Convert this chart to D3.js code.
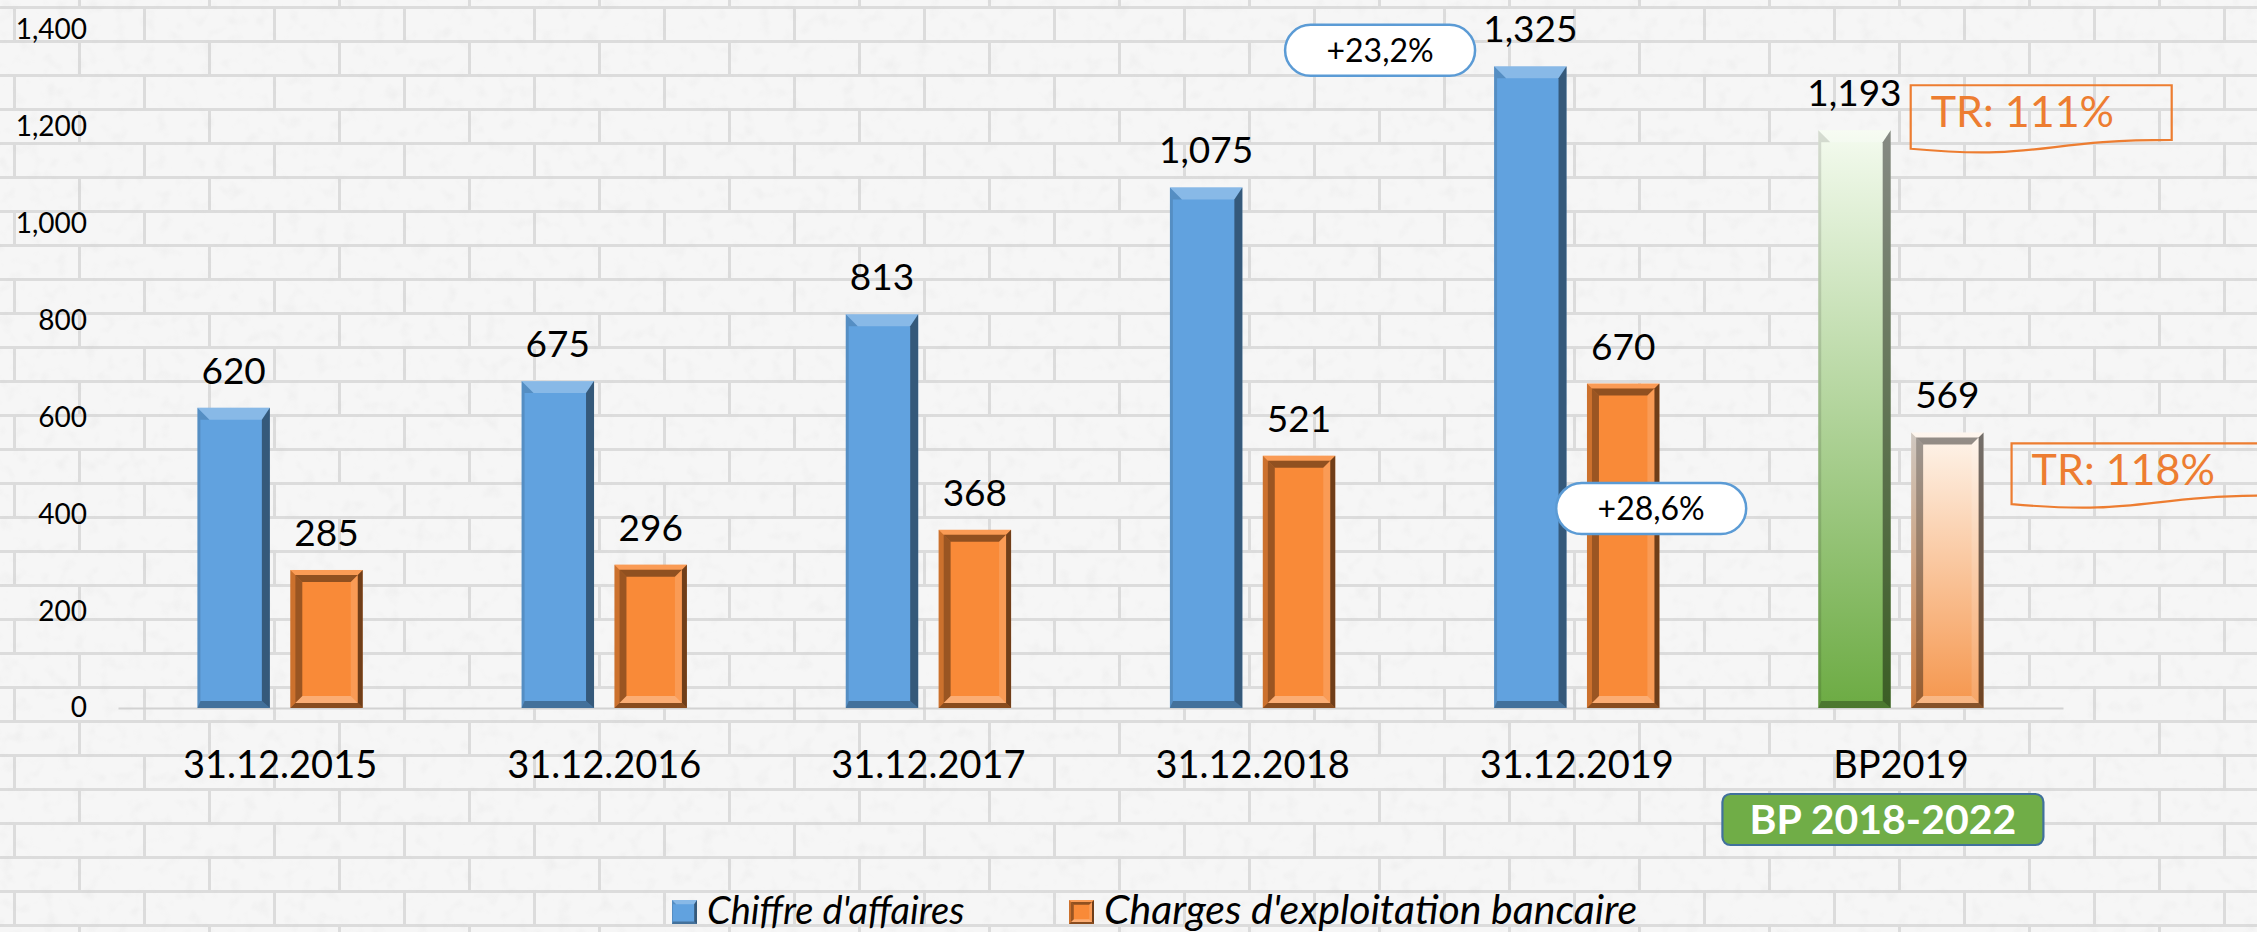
<!DOCTYPE html>
<meta charset="utf-8">
<style>
body { margin: 0; background: #fff; }
text { font-family: Lato, "Open Sans", sans-serif; }
</style>
<body>
<svg width="2257" height="932"></svg>
<script src="https://d3js.org/d3.v7.min.js"></script>
<script>

// data
var categories = ["31.12.2015", "31.12.2016", "31.12.2017", "31.12.2018", "31.12.2019", "BP2019"];
var seriesNames = ["Chiffre d'affaires", "Charges d'exploitation bancaire"];
var chiffre = [620, 675, 813, 1075, 1325, 1193];
var charges = [285, 296, 368, 521, 670, 569];
var yTicks = [0, 200, 400, 600, 800, 1000, 1200, 1400];
var growthLabels = ["+23,2%", "+28,6%"];
var trLabels = ["TR: 111%", "TR: 118%"];
var bpLabel = "BP 2018-2022";

var svg = d3.select("svg"),
    W = +svg.attr("width"), H = +svg.attr("height");

var defs = svg.append("defs");

// brick wall background
var pat = defs.append("pattern")
    .attr("id", "bricks")
    .attr("patternUnits", "userSpaceOnUse")
    .attr("width", 260).attr("height", 68)
    .attr("x", 13).attr("y", 6);
pat.append("rect").attr("width", 260).attr("height", 68).attr("fill", "#f6f6f6");
pat.append("path")
    .attr("d", "M0,1.5H260 M0,35.5H260 M1.5,0V34 M131.5,0V34 M66.5,34V68 M196.5,34V68")
    .attr("stroke", "#dcdcdc").attr("stroke-width", 3);

var grain = defs.append("filter").attr("id", "grain");
grain.append("feTurbulence").attr("type", "fractalNoise").attr("baseFrequency", 0.07).attr("numOctaves", 2).attr("seed", 4);
grain.append("feColorMatrix").attr("values", "0 0 0 0 0.6  0 0 0 0 0.6  0 0 0 0 0.6  0 0 0 -2.5 1.2");

svg.append("rect").attr("width", W).attr("height", H).attr("fill", "url(#bricks)");
svg.append("rect").attr("width", W).attr("height", H).attr("filter", "url(#grain)").attr("opacity", 0.14);

// gradients for the BP column
function vgrad(id, c0, c1) {
  var gr = defs.append("linearGradient").attr("id", id)
      .attr("x1", 0).attr("y1", 0).attr("x2", 0).attr("y2", 1);
  gr.append("stop").attr("offset", "0%").attr("stop-color", c0);
  gr.append("stop").attr("offset", "100%").attr("stop-color", c1);
}
vgrad("gGreen", "#f4fbef", "#6cab43");
vgrad("gPeach", "#fef5ec", "#f5954b");

var blue = "#61a2df", orange = "#f98a38";

// scales
var x0 = d3.scaleBand().domain(categories).range([118, 2063]).paddingInner(0.49).paddingOuter(0.245);
var x1 = d3.scaleBand().domain(seriesNames).range([0, x0.bandwidth()]).paddingInner(0.22);
var y = d3.scaleLinear().domain([0, 1400]).range([708, 30]);

// axes
var yAxis = svg.append("g")
    .attr("transform", "translate(87,0)")
    .call(d3.axisLeft(y).tickValues(yTicks).tickSize(0).tickPadding(0).tickFormat(d3.format(",")));
yAxis.select(".domain").remove();
yAxis.selectAll("text").attr("font-size", 28).attr("font-family", "Lato").attr("fill", "#000");

var xAxis = svg.append("g")
    .attr("transform", "translate(0," + y(0) + ")")
    .call(d3.axisBottom(x0).tickSize(0).tickSizeOuter(0).tickPadding(43));
xAxis.select(".domain").attr("stroke", "#d2d2d2").attr("stroke-width", 2);
xAxis.selectAll("text").attr("font-size", 38).attr("font-family", "Lato").attr("fill", "#000");

// bevel helpers
function poly(g, pts, color, op) {
  g.append("polygon").attr("points", pts.map(function(p) { return p.join(","); }).join(" "))
    .attr("fill", color).attr("fill-opacity", op);
}
function ring(g, x, y, w, h, d, st) {
  poly(g, [[x, y], [x + w, y], [x + w - d, y + d], [x + d, y + d]], st[0][0], st[0][1]);
  poly(g, [[x + w, y], [x + w, y + h], [x + w - d, y + h - d], [x + w - d, y + d]], st[1][0], st[1][1]);
  poly(g, [[x, y + h], [x + w, y + h], [x + w - d, y + h - d], [x + d, y + h - d]], st[2][0], st[2][1]);
  poly(g, [[x, y], [x + d, y + d], [x + d, y + h - d], [x, y + h]], st[3][0], st[3][1]);
}
function angleBar(g, x, y, w, h, fill, k) {
  var t = 12 * k, s = 8 * k, b = 7 * k, l = 3 * k;
  g.append("rect").attr("x", x).attr("y", y).attr("width", w).attr("height", h).attr("fill", fill);
  poly(g, [[x, y], [x + w, y], [x + w - s, y + t], [x + t, y + t]], "#fff", 0.25);
  poly(g, [[x + w, y], [x + w, y + h], [x + w - s, y + h - b], [x + w - s, y + t]], "#000", 0.45);
  poly(g, [[x, y + h], [x + w, y + h], [x + w - s, y + h - b], [x + l, y + h - b]], "#000", 0.3);
  poly(g, [[x, y], [x + t, y + t], [x + l, y + t], [x + l, y + h - b], [x, y + h]], "#000", 0.12);
}
function frameBar(g, x, y, w, h, fill, k) {
  var d1 = 5 * k, d2 = 7 * k;
  g.append("rect").attr("x", x).attr("y", y).attr("width", w).attr("height", h).attr("fill", fill);
  ring(g, x, y, w, h, d1, [["#fff", 0.15], ["#000", 0.55], ["#000", 0.45], ["#000", 0.18]]);
  ring(g, x + d1, y + d1, w - 2 * d1, h - 2 * d1, d2, [["#000", 0.42], ["#fff", 0.15], ["#fff", 0.3], ["#000", 0.38]]);
}

// bars
var bars = svg.append("g");
categories.forEach(function(c, i) {
  var bp = (c === "BP2019");
  [chiffre[i], charges[i]].forEach(function(v, j) {
    var s = seriesNames[j],
        bx = x0(c) + x1(s), by = y(v), bw = x1.bandwidth(), bh = y(0) - y(v);
    if (j === 0) angleBar(bars, bx, by, bw, bh, bp ? "url(#gGreen)" : blue, 1);
    else frameBar(bars, bx, by, bw, bh, bp ? "url(#gPeach)" : orange, 1);
    bars.append("text")
        .attr("x", bx + bw / 2).attr("y", by - 24)
        .attr("text-anchor", "middle").attr("font-size", 37).attr("fill", "#000")
        .text(d3.format(",")(v));
  });
});

// growth callouts (2019 vs 2018)
var ann = svg.append("g");
function pill(cx, cy, txt) {
  ann.append("rect").attr("x", cx - 95).attr("y", cy - 25.5).attr("width", 190).attr("height", 51)
      .attr("rx", 25.5).attr("fill", "#fff").attr("stroke", "#5b9bd5").attr("stroke-width", 2.5);
  ann.append("text").attr("x", cx).attr("y", cy).attr("dy", "0.36em")
      .attr("text-anchor", "middle").attr("font-size", 32).attr("fill", "#000").text(txt);
}
var c19 = categories[4];
pill(x0(c19) + x1(seriesNames[0]) - 114, y(chiffre[4]) - 16, growthLabels[0]);
pill(x0(c19) + x1(seriesNames[1]) + x1.bandwidth() / 2 + 28, y(charges[4]) + 125, growthLabels[1]);

// completion-rate boxes for the business plan
function docBox(x, yt, w, h, txt) {
  var p = "M" + x + "," + yt + "H" + (x + w) + "V" + (yt + 0.802 * h) +
          "C" + (x + w / 2) + "," + (yt + 0.802 * h) + " " + (x + w / 2) + "," + (yt + 1.1075 * h) +
          " " + x + "," + (yt + 0.934 * h) + "Z";
  ann.append("path").attr("d", p).attr("fill", "none").attr("stroke", "#ed7d31").attr("stroke-width", 2.2);
  ann.append("text").attr("x", x + 20).attr("y", yt + 42)
      .attr("font-size", 43).attr("fill", "#ed7d31").text(txt);
}
var cbp = categories[5];
docBox(x0(cbp) + x1(seriesNames[0]) + x1.bandwidth() + 20, y(chiffre[5]) - 45, 261, 68, trLabels[0]);
docBox(x0(cbp) + x1(seriesNames[1]) + x1.bandwidth() + 28, y(charges[5]) + 11, 261, 65, trLabels[1]);

// BP label under the last category
var bpx = x0(cbp) + x0.bandwidth() / 2 - 18;
ann.append("rect").attr("x", bpx - 160.5).attr("y", 794).attr("width", 321).attr("height", 51)
    .attr("rx", 8).attr("fill", "#70ad47").attr("stroke", "#41719c").attr("stroke-width", 2.2);
ann.append("text").attr("x", bpx).attr("y", 819.5).attr("dy", "0.36em")
    .attr("text-anchor", "middle").attr("font-size", 41).attr("font-weight", "bold")
    .attr("fill", "#fff").text(bpLabel);

// legend
var leg = svg.append("g");
var legX = [672, 1069];
seriesNames.forEach(function(s, j) {
  var ig = leg.append("g"), lx = legX[j];
  if (j === 0) angleBar(ig, lx, 900, 25, 24, blue, 0.35);
  else frameBar(ig, lx, 900, 25, 24, orange, 0.4);
  leg.append("text").attr("x", lx + 35).attr("y", 924)
      .attr("font-size", j === 0 ? 38 : 41).attr("font-style", "italic").attr("fill", "#000").text(s);
});

</script>
</body>
